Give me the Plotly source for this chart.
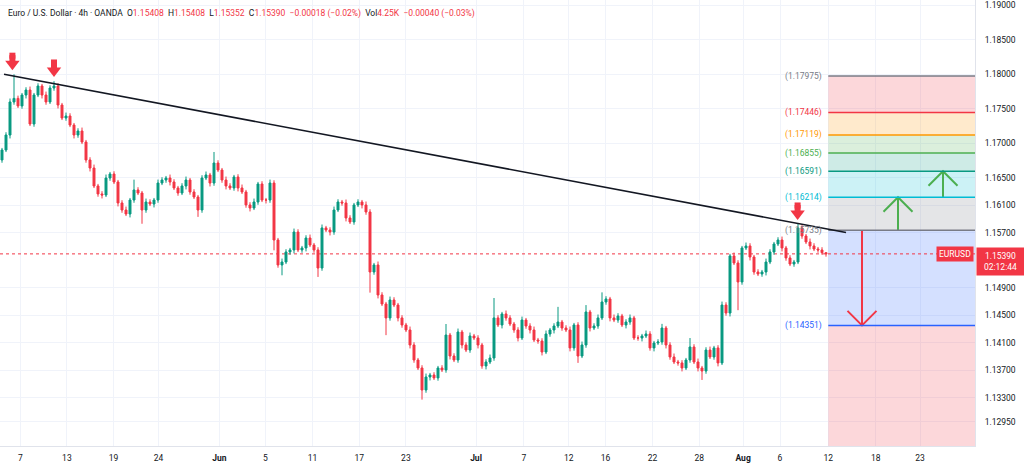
import plotly.graph_objects as go

# ---------------- data ----------------
PIP = 0.0001
first_open = 1.16755
close = [
    1.16900, 1.17118, 1.17598, 1.17650, 1.17540, 1.17699, 1.17772, 1.17278, 1.17699, 1.17830,
    1.17699, 1.17598, 1.17801, 1.17830, 1.17554, 1.17365, 1.17394, 1.17263, 1.17118, 1.17176,
    1.17016, 1.16755, 1.16638, 1.16377, 1.16261, 1.16246, 1.16493, 1.16551, 1.16435, 1.16130,
    1.16028, 1.15970, 1.16173, 1.16319, 1.16275, 1.16028, 1.16144, 1.16115, 1.16173, 1.16420,
    1.16464, 1.16493, 1.16435, 1.16348, 1.16275, 1.16377, 1.16464, 1.16290, 1.16217, 1.16028,
    1.16493, 1.16537, 1.16420, 1.16711, 1.16609, 1.16464, 1.16377, 1.16348, 1.16508, 1.16348,
    1.16290, 1.16101, 1.16057, 1.16144, 1.16406, 1.16173, 1.16173, 1.16420, 1.15592, 1.15229,
    1.15272, 1.15418, 1.15447, 1.15708, 1.15447, 1.15476, 1.15621, 1.15519, 1.15447, 1.15185,
    1.15767, 1.15737, 1.15708, 1.16028, 1.16144, 1.16130, 1.15912, 1.15854, 1.16101, 1.16144,
    1.16101, 1.15999, 1.15127, 1.15229, 1.14793, 1.14662, 1.14459, 1.14720, 1.14647, 1.14459,
    1.14357, 1.14284, 1.14066, 1.13848, 1.13732, 1.13412, 1.13601, 1.13630, 1.13587, 1.13732,
    1.13703, 1.14211, 1.13906, 1.13848, 1.14255, 1.14066, 1.13993, 1.14197, 1.14168, 1.14066,
    1.13761, 1.13819, 1.13877, 1.14459, 1.14357, 1.14517, 1.14459, 1.14371, 1.14284, 1.14168,
    1.14429, 1.14342, 1.14284, 1.14139, 1.14124, 1.13964, 1.14226, 1.14284, 1.14342, 1.14400,
    1.14313, 1.14284, 1.14023, 1.14357, 1.13906, 1.14066, 1.14546, 1.14313, 1.14342, 1.14459,
    1.14691, 1.14735, 1.14459, 1.14429, 1.14488, 1.14357, 1.14400, 1.14459, 1.14168, 1.14168,
    1.14197, 1.14226, 1.14023, 1.14095, 1.14110, 1.14313, 1.14066, 1.13892, 1.13819, 1.13805,
    1.13732, 1.13848, 1.14037, 1.13819, 1.13732, 1.13688, 1.13993, 1.13892, 1.14023, 1.13805,
    1.14647, 1.14531, 1.15360, 1.15258, 1.14982, 1.15476, 1.15505, 1.15345, 1.15127, 1.15098,
    1.15127, 1.15272, 1.15418, 1.15534, 1.15592, 1.15476, 1.15331, 1.15243, 1.15272, 1.15767,
    1.15650, 1.15563, 1.15505, 1.15461, 1.15447, 1.15408, 1.15390,
]
# wick lengths beyond the body, in pips
wick_up = [
    3, 4, 5, 35, 4, 3, 4, 5, 3, 4,
    3, 5, 4, 7, 4, 3, 5, 4, 3, 4,
    5, 3, 4, 5, 3, 4, 5, 3, 4, 3,
    4, 5, 3, 15, 4, 3, 5, 4, 3, 5,
    4, 3, 5, 4, 3, 4, 5, 3, 4, 3,
    4, 5, 3, 16, 4, 3, 5, 4, 3, 4,
    5, 3, 4, 5, 3, 4, 3, 5, 4, 3,
    5, 4, 3, 5, 4, 3, 4, 5, 3, 4,
    5, 3, 4, 5, 4, 3, 5, 4, 3, 4,
    3, 5, 4, 3, 5, 4, 3, 5, 4, 3,
    4, 3, 5, 4, 3, 4, 5, 3, 4, 3,
    4, 16, 3, 4, 5, 3, 4, 5, 3, 4,
    3, 4, 5, 29, 4, 3, 5, 4, 3, 4,
    5, 3, 4, 5, 3, 4, 5, 3, 4, 22,
    3, 4, 5, 3, 4, 5, 10, 3, 4, 5,
    14, 4, 3, 5, 4, 3, 4, 5, 3, 4,
    3, 5, 4, 3, 4, 6, 3, 4, 5, 3,
    4, 3, 13, 4, 5, 3, 4, 5, 3, 4,
    5, 4, 3, 5, 4, 3, 5, 4, 3, 4,
    3, 5, 4, 3, 4, 5, 3, 4, 3, 7,
    4, 3, 5, 4, 3, 4, 0,
]
wick_dn = [
    4, 3, 5, 4, 3, 4, 5, 3, 4, 3,
    5, 4, 3, 4, 5, 3, 4, 3, 5, 4,
    3, 4, 5, 3, 4, 5, 3, 4, 3, 5,
    4, 3, 5, 4, 3, 20, 4, 3, 5, 4,
    3, 4, 5, 3, 4, 3, 5, 4, 3, 10,
    4, 3, 5, 4, 3, 4, 5, 3, 4, 5,
    3, 4, 5, 3, 4, 3, 5, 4, 15, 4,
    15, 3, 4, 5, 3, 4, 5, 3, 4, 13,
    4, 3, 5, 4, 3, 4, 5, 3, 4, 3,
    5, 4, 30, 4, 5, 3, 25, 4, 3, 5,
    4, 3, 5, 4, 3, 14, 4, 5, 3, 4,
    3, 4, 5, 3, 4, 5, 3, 4, 3, 5,
    4, 5, 3, 4, 3, 5, 4, 3, 4, 5,
    3, 4, 5, 3, 4, 5, 3, 4, 5, 3,
    4, 3, 5, 4, 10, 3, 4, 5, 3, 4,
    3, 4, 5, 3, 4, 3, 5, 4, 3, 4,
    5, 3, 4, 5, 3, 4, 5, 4, 3, 4,
    5, 3, 4, 3, 5, 13, 4, 3, 4, 5,
    3, 4, 5, 3, 41, 4, 3, 5, 4, 3,
    4, 5, 3, 4, 3, 5, 4, 3, 4, 3,
    4, 3, 5, 3, 4, 3, 4,
]

tick_pos = [4.575, 16.225, 27.875, 39.125, 54.35, 65.875, 77.65, 89.3, 100.975,
            118.5, 130.45, 141.675, 150.875, 162.65, 174.325, 185.275, 194.5,
            206.575, 218.425, 229.5]
tick_text = ["7", "13", "19", "24", "<b>Jun</b>", "5", "11", "17", "23",
             "<b>Jul</b>", "7", "12", "16", "22", "28", "<b>Aug</b>", "6",
             "12", "18", "23"]
price_ticks = [1.19, 1.185, 1.18, 1.175, 1.17, 1.165, 1.161, 1.157,
               1.149, 1.145, 1.141, 1.137, 1.133, 1.1295]

fib_levels = [1.17975, 1.17446, 1.17119, 1.16855, 1.16591, 1.16214, 1.15735, 1.14351]
fib_line_colors = ["#787b86", "#f23645", "#ff9800", "#4caf50", "#089981",
                   "#00bcd4", "#787b86", "#2962ff"]
fib_fill_colors = ["rgba(242,54,69,0.2)", "rgba(255,152,0,0.2)", "rgba(76,175,80,0.2)",
                   "rgba(8,153,129,0.2)", "rgba(0,188,212,0.2)", "rgba(120,123,134,0.2)",
                   "rgba(41,98,255,0.2)", "rgba(242,54,69,0.2)"]

trend_x = [0.5, 211.0]
trend_y = [1.18000, 1.15700]

signal_x = [2.6, 13.0, 198.9]
signal_tip = [1.18060, 1.17961, 1.15883]

up_arrow_x = [224.0, 235.25]
up_arrow_from = [1.15735, 1.16214]
up_arrow_to = [1.16214, 1.16591]
down_arrow_x = [215.0]
down_arrow_from = [1.15735]
down_arrow_to = [1.14351]

last_price = 1.15390
countdown = "02:12:44"
symbol = "EURUSD"

X_RANGE = [-0.5, 243.25]
Y_RANGE = [1.12598, 1.19080]

# ---------------- figure ----------------
UP = "#089981"
DN = "#f23645"
TXT = "#131722"
GRID = "#f0f3fa"
FONT = "Roboto"

W, H = 1024, 466
M = dict(l=0, r=49, t=0, b=20)
plot_h = H - M["t"] - M["b"]
plot_w = W - M["l"] - M["r"]
px_per_price = plot_h / (Y_RANGE[1] - Y_RANGE[0])
px_per_bar = plot_w / (X_RANGE[1] - X_RANGE[0])

n = min(len(close), len(wick_up), len(wick_dn))
xs = list(range(n))
opens = [first_open] + close[:n - 1]
highs = [max(o, c) + u * PIP for o, c, u in zip(opens, close[:n], wick_up[:n])]
lows = [min(o, c) - d * PIP for o, c, d in zip(opens, close[:n], wick_dn[:n])]

fig = go.Figure()
fig.add_trace(go.Candlestick(
    x=xs, open=opens, high=highs, low=lows, close=close[:n],
    increasing=dict(line=dict(color=UP, width=1), fillcolor=UP),
    decreasing=dict(line=dict(color=DN, width=1), fillcolor=DN),
    whiskerwidth=0, showlegend=False, hoverinfo="skip",
))

box_x0 = tick_pos[17]
box_x1 = X_RANGE[1]
shapes = []
bounds = fib_levels + [Y_RANGE[0]]
for k in range(len(fib_levels)):
    shapes.append(dict(type="rect", xref="x", yref="y", x0=box_x0, x1=box_x1,
                       y0=bounds[k + 1], y1=bounds[k], fillcolor=fib_fill_colors[k],
                       line=dict(width=0), layer="between"))
shapes.append(dict(type="line", xref="x", yref="y", x0=X_RANGE[0], x1=X_RANGE[1],
                   y0=last_price, y1=last_price, line=dict(color=DN, width=1, dash="dot"),
                   layer="between"))
for lv, col in zip(fib_levels, fib_line_colors):
    shapes.append(dict(type="line", xref="x", yref="y", x0=box_x0, x1=box_x1,
                       y0=lv, y1=lv, line=dict(color=col, width=1.5)))
shapes.append(dict(type="line", xref="x", yref="y", x0=trend_x[0], x1=trend_x[1],
                   y0=trend_y[0], y1=trend_y[1], line=dict(color=TXT, width=1.6)))

annotations = []
for lv, col in zip(fib_levels, fib_line_colors):
    annotations.append(dict(x=box_x0, y=lv, xref="x", yref="y", xanchor="right",
                            yanchor="middle", xshift=-4, showarrow=False,
                            text="(%.5f)" % lv, font=dict(family=FONT, size=8.5, color=col)))

arm_dx = 14.5 / px_per_bar
arm_dy = 14.5 / px_per_price


def add_arrow(x, y_from, y_to, color):
    sgn = 1 if y_to > y_from else -1
    fig.add_trace(go.Scatter(
        x=[x, x, None, x - arm_dx, x, x + arm_dx],
        y=[y_from, y_to, None, y_to - sgn * arm_dy, y_to, y_to - sgn * arm_dy],
        mode="lines", line=dict(color=color, width=2), showlegend=False, hoverinfo="skip"))


for ax_, a0, a1 in zip(up_arrow_x, up_arrow_from, up_arrow_to):
    add_arrow(ax_, a0, a1, "#4caf50")
for ax_, a0, a1 in zip(down_arrow_x, down_arrow_from, down_arrow_to):
    add_arrow(ax_, a0, a1, DN)

tri_size = 12.5
head_y = [t + (tri_size / 2) / px_per_price for t in signal_tip]
stem_y1 = [t + 12 / px_per_price for t in signal_tip]
stem_y2 = [t + 14.5 / px_per_price for t in signal_tip]
fig.add_trace(go.Scatter(x=signal_x + signal_x, y=stem_y1 + stem_y2, mode="markers",
                         marker=dict(symbol="square", size=6, color=DN, line=dict(width=0)),
                         showlegend=False, hoverinfo="skip"))
fig.add_trace(go.Scatter(x=signal_x, y=head_y, mode="markers",
                         marker=dict(symbol="triangle-down", size=tri_size, color=DN,
                                     line=dict(width=0)),
                         showlegend=False, hoverinfo="skip"))

annotations.append(dict(x=1, y=last_price, xref="paper", yref="y", xanchor="right",
                        yanchor="middle", xshift=-1, showarrow=False, text=symbol,
                        bgcolor=DN, borderpad=2,
                        font=dict(family=FONT, size=8.5, color="white")))
annotations.append(dict(x=1, y=last_price, xref="paper", yref="y", xanchor="left",
                        yanchor="top", xshift=1, yshift=7, showarrow=False,
                        text="%.5f<br>%s" % (last_price, countdown), align="center",
                        bgcolor=DN, borderpad=3, width=41,
                        font=dict(family=FONT, size=8.5, color="white")))

R = "<span style='color:#f23645'>%s</span>"
sp = "&nbsp;&nbsp;"
header = ("Euro / U.S. Dollar · 4h · OANDA" + sp +
          "O" + R % "1.15408" + sp + "H" + R % "1.15408" + sp +
          "L" + R % "1.15352" + sp + "C" + R % "1.15390" + sp +
          R % "−0.00018 (−0.02%)" + sp + "Vol" + R % "4.25K" + sp +
          R % "−0.00040 (−0.03%)")
annotations.append(dict(x=0, y=1, xref="paper", yref="paper", xanchor="left",
                        yanchor="middle", xshift=6, yshift=-13, showarrow=False,
                        text=header, font=dict(family=FONT, size=8.5, color=TXT)))

fig.update_layout(
    width=W, height=H, margin=M,
    paper_bgcolor="white", plot_bgcolor="white",
    font=dict(family=FONT, size=8.5, color=TXT),
    shapes=shapes, annotations=annotations, showlegend=False,
    xaxis=dict(range=X_RANGE, tickvals=tick_pos, ticktext=tick_text,
               showgrid=True, gridcolor=GRID, gridwidth=1, zeroline=False,
               ticks="", rangeslider=dict(visible=False), fixedrange=True,
               showline=True, linecolor="#e0e3eb", ticklabelstandoff=4,
               tickfont=dict(family=FONT, size=8.5, color=TXT)),
    yaxis=dict(range=Y_RANGE, side="right", tickvals=price_ticks,
               ticktext=["%.5f" % v for v in price_ticks],
               showgrid=True, gridcolor=GRID, gridwidth=1, zeroline=False,
               ticks="", showline=True, linecolor="#e0e3eb", ticklabelstandoff=7,
               tickfont=dict(family=FONT, size=8.5, color=TXT), fixedrange=True),
)

fig.write_html("out.html", config={"displayModeBar": False},
               post_script="document.body.style.margin='0px';document.body.style.overflow='hidden';")
